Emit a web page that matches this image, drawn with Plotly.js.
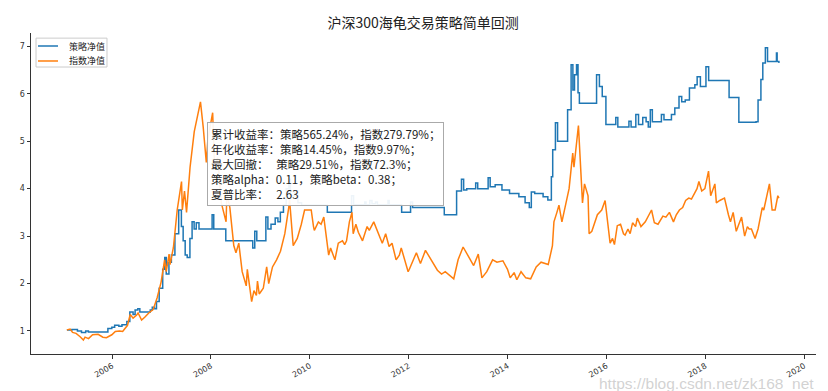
<!DOCTYPE html>
<html>
<head>
<meta charset="utf-8">
<script src="https://cdn.plot.ly/plotly-3.0.1.min.js"></script>
<style>html,body{margin:0;padding:0;background:#fff;}#chart{width:828px;height:391px;}</style>
</head>
<body>
<div id="chart"></div>
<script>
const chartTitle = '沪深300海龟交易策略简单回测';
const seriesNames = ['策略净值', '指数净值'];
const seriesColors = ['#1f77b4', '#ff7f0e'];
const statsLines = [
  '累计收益率：策略565.24%，指数279.79%；',
  '年化收益率：策略14.45%，指数9.97%；',
  '最大回撤：   策略29.51%，指数72.3%；',
  '策略alpha：0.11，策略beta：0.38；',
  '夏普比率：   2.63'
];
const watermark = 'https://blog.csdn.net/zk168_net';

const stratDates = ['2005-02-01','2005-03-10','2005-04-20','2005-05-20','2005-06-20','2005-07-10','2005-10-20','2005-12-01','2005-12-30','2006-01-20','2006-02-20','2006-03-15','2006-04-20','2006-05-12','2006-06-05','2006-06-20','2006-07-10','2006-07-25','2006-09-10','2006-10-10','2006-10-25','2006-11-10','2006-11-25','2006-12-15','2007-01-10','2007-01-25','2007-02-05','2007-02-25','2007-03-15','2007-04-10','2007-05-08','2007-05-28','2007-06-10','2007-06-25','2007-07-10','2007-07-30','2007-08-15','2007-08-30','2007-09-15','2007-10-05','2008-01-10','2008-01-22','2008-04-20','2008-10-20','2008-11-05','2008-11-20','2008-12-05','2009-02-10','2009-02-25','2009-03-20','2009-04-20','2009-05-10','2009-05-28','2009-06-20','2009-07-10','2009-07-30','2009-08-10','2009-09-10','2009-10-05','2009-11-01','2010-05-10','2010-10-25','2010-11-05','2010-11-20','2011-02-10','2011-02-20','2011-03-20','2011-04-05','2011-05-01','2011-05-15','2011-08-01','2011-08-10','2011-11-10','2012-01-15','2012-01-30','2012-09-20','2012-12-20','2013-01-25','2013-02-10','2013-03-05','2013-05-10','2013-05-25','2013-08-10','2013-08-25','2013-10-01','2013-11-20','2014-01-15','2014-03-25','2014-05-10','2014-06-10','2014-06-25','2014-07-20','2014-09-20','2014-10-25','2014-11-20','2014-11-30','2014-12-20','2015-01-05','2015-03-20','2015-04-15','2015-04-28','2015-05-10','2015-05-25','2015-06-05','2015-06-15','2015-10-20','2015-11-10','2015-12-01','2015-12-28','2016-03-10','2016-03-25','2016-06-15','2016-07-01','2016-08-05','2016-08-25','2016-09-25','2016-10-20','2016-11-05','2016-11-20','2016-12-05','2017-02-10','2017-03-01','2017-04-25','2017-05-20','2017-06-20','2017-07-10','2017-08-05','2017-09-05','2017-10-15','2017-11-01','2017-11-25','2018-01-05','2018-01-25','2018-06-25','2018-09-05','2019-01-10','2019-01-25','2019-02-15','2019-03-01','2019-03-20','2019-04-05','2019-06-10','2019-06-15','2019-06-28'];
const stratValues = [1.02,1.03,1.00,0.97,1.00,0.98,0.98,1.05,1.08,1.12,1.10,1.13,1.20,1.40,1.35,1.44,1.47,1.40,1.40,1.44,1.50,1.47,1.62,1.90,2.30,2.55,2.20,2.45,2.60,3.05,3.55,3.20,2.90,2.60,2.55,2.95,3.30,3.15,3.28,3.15,3.45,3.15,2.90,2.90,2.75,3.10,2.90,3.40,3.15,3.25,3.38,3.30,3.50,3.65,4.00,4.20,3.85,3.95,3.70,3.65,3.50,3.50,3.85,3.66,3.72,3.66,3.75,3.68,3.72,3.66,3.75,3.66,3.50,3.72,3.60,3.45,3.95,4.20,3.97,4.00,4.12,4.00,4.23,4.04,4.08,3.97,3.90,3.83,3.70,3.60,3.93,3.90,3.83,3.76,4.25,4.82,5.39,5.00,5.66,6.61,6.08,6.40,6.61,6.02,5.80,6.40,6.15,5.94,5.35,5.50,5.30,5.42,5.30,5.56,5.35,5.50,5.41,5.30,5.66,5.41,5.56,5.45,5.56,5.70,5.94,5.83,5.87,6.12,6.19,6.36,6.15,6.57,6.28,5.92,5.40,5.41,5.87,6.30,6.65,6.97,6.68,6.86,6.68,6.65];

const indexDates = ['2005-02-01','2005-02-25','2005-03-15','2005-04-10','2005-05-10','2005-06-03','2005-06-15','2005-07-11','2005-08-10','2005-09-20','2005-10-25','2005-11-20','2005-12-30','2006-01-25','2006-02-25','2006-03-20','2006-04-25','2006-05-15','2006-06-05','2006-06-30','2006-07-12','2006-08-07','2006-08-30','2006-09-29','2006-10-31','2006-11-30','2006-12-29','2007-01-24','2007-02-05','2007-02-26','2007-03-05','2007-03-30','2007-04-27','2007-05-29','2007-06-04','2007-06-20','2007-07-05','2007-07-31','2007-08-31','2007-09-28','2007-10-16','2007-11-05','2007-11-28','2007-12-10','2007-12-28','2008-01-14','2008-01-28','2008-02-20','2008-03-18','2008-04-22','2008-04-28','2008-05-20','2008-06-18','2008-07-04','2008-07-25','2008-08-19','2008-09-18','2008-09-26','2008-10-28','2008-11-14','2008-12-02','2008-12-10','2008-12-23','2009-01-22','2009-02-16','2009-03-03','2009-03-31','2009-04-30','2009-05-29','2009-06-30','2009-07-29','2009-08-04','2009-08-31','2009-09-30','2009-10-30','2009-11-23','2009-12-31','2010-01-11','2010-01-28','2010-02-03','2010-03-05','2010-03-25','2010-04-14','2010-04-30','2010-05-20','2010-06-03','2010-07-05','2010-07-30','2010-08-30','2010-09-15','2010-09-29','2010-10-20','2010-11-08','2010-11-17','2010-12-07','2010-12-25','2011-01-25','2011-02-28','2011-03-16','2011-04-18','2011-05-30','2011-06-20','2011-07-15','2011-08-09','2011-08-31','2011-09-30','2011-10-24','2011-11-07','2011-12-28','2012-01-06','2012-02-27','2012-03-28','2012-05-04','2012-06-29','2012-07-31','2012-08-31','2012-09-27','2012-11-29','2012-12-31','2013-02-06','2013-03-28','2013-04-25','2013-05-29','2013-06-25','2013-07-31','2013-09-12','2013-10-14','2013-11-27','2013-12-31','2014-01-20','2014-02-18','2014-03-10','2014-04-10','2014-05-15','2014-06-20','2014-07-31','2014-09-05','2014-10-28','2014-11-28','2014-12-09','2014-12-31','2015-01-15','2015-02-06','2015-03-31','2015-04-27','2015-05-06','2015-06-08','2015-06-19','2015-06-26','2015-07-08','2015-07-23','2015-08-18','2015-08-26','2015-09-15','2015-10-26','2015-11-27','2015-12-22','2016-01-28','2016-02-15','2016-02-29','2016-03-21','2016-04-14','2016-05-06','2016-05-18','2016-06-08','2016-06-24','2016-07-12','2016-08-03','2016-08-16','2016-09-12','2016-10-14','2016-11-29','2016-12-20','2017-01-16','2017-02-21','2017-03-15','2017-04-10','2017-05-10','2017-05-31','2017-06-23','2017-07-17','2017-08-08','2017-08-31','2017-09-20','2017-10-31','2017-11-14','2017-12-05','2017-12-28','2018-01-24','2018-02-09','2018-03-12','2018-03-23','2018-04-17','2018-05-22','2018-06-20','2018-07-05','2018-07-25','2018-08-17','2018-09-05','2018-09-25','2018-10-18','2018-11-07','2018-11-20','2018-12-07','2019-01-03','2019-01-25','2019-02-25','2019-03-08','2019-04-19','2019-05-09','2019-05-31','2019-06-20','2019-06-28'];
const indexValues = [1.02,1.04,0.97,0.95,0.88,0.81,0.87,0.84,0.92,0.93,0.87,0.86,0.92,0.99,1.00,0.99,1.12,1.35,1.27,1.33,1.38,1.23,1.29,1.38,1.45,1.70,2.03,2.50,2.25,2.62,2.40,2.76,3.55,4.15,3.55,3.95,3.50,4.45,5.20,5.55,5.83,5.30,4.55,5.05,5.30,5.60,4.45,4.65,3.70,3.30,3.90,3.60,2.80,2.65,2.85,2.25,1.95,2.30,1.62,1.85,1.75,2.05,1.78,1.90,2.35,2.00,2.35,2.50,2.68,3.05,3.60,3.77,2.80,2.95,3.25,3.55,3.55,3.55,3.20,3.12,3.30,3.25,3.40,3.05,2.60,2.75,2.50,2.85,2.90,2.82,2.90,3.30,3.50,3.05,3.25,3.08,2.90,3.20,3.12,3.30,3.00,2.85,3.05,2.78,2.85,2.50,2.60,2.75,2.25,2.30,2.65,2.42,2.70,2.42,2.28,2.20,2.25,2.10,2.50,2.77,2.50,2.38,2.62,2.12,2.25,2.50,2.45,2.48,2.30,2.12,2.23,2.08,2.25,2.12,2.10,2.35,2.45,2.40,2.80,3.30,3.50,3.65,3.30,4.00,4.75,4.45,5.33,4.70,4.25,3.70,4.10,3.85,3.05,3.10,3.45,3.55,3.75,2.85,2.95,2.82,3.22,3.25,3.05,3.02,3.15,3.05,3.28,3.20,3.38,3.20,3.30,3.55,3.28,3.25,3.42,3.40,3.50,3.30,3.45,3.55,3.60,3.75,3.80,3.78,4.00,4.15,3.95,4.00,4.37,3.85,4.10,3.70,3.75,3.80,3.45,3.30,3.50,3.10,3.25,3.40,3.00,3.20,3.15,3.15,2.95,3.15,3.60,3.55,4.10,3.55,3.55,3.85,3.80];

const cjk = '"Noto Sans CJK SC", "Noto Sans", sans-serif';
const tickFont = {family: '"DejaVu Sans", sans-serif', size: 8, color: '#333'};

const traces = [
  {x: stratDates, y: stratValues, name: seriesNames[0], type: 'scatter', mode: 'lines',
   line: {color: seriesColors[0], width: 1.5, shape: 'hv'}},
  {x: indexDates, y: indexValues, name: seriesNames[1], type: 'scatter', mode: 'lines',
   line: {color: seriesColors[1], width: 1.5}}
];

const legendRowsY = [0.9595, 0.9128];
const legendShapes = [
  {type: 'rect', xref: 'paper', yref: 'paper', x0: 0.0064, x1: 0.0968, y0: 0.894, y1: 0.984,
   line: {color: '#cccccc', width: 1}, fillcolor: 'rgba(255,255,255,0.8)', layer: 'above'}
].concat(seriesNames.map((n, i) => ({type: 'line', xref: 'paper', yref: 'paper', x0: 0.0089, x1: 0.0344,
   y0: legendRowsY[i], y1: legendRowsY[i], line: {color: seriesColors[i], width: 1.5}, layer: 'above'})));
const legendTexts = seriesNames.map((n, i) => ({xref: 'paper', yref: 'paper', x: 0.0459, y: legendRowsY[i],
   xanchor: 'left', yanchor: 'middle', showarrow: false, text: n, font: {family: cjk, size: 9, color: '#222'}}));

const layout = {
  width: 828, height: 391,
  margin: {l: 31, r: 12, t: 33, b: 37},
  paper_bgcolor: '#fff', plot_bgcolor: '#fff',
  title: {text: chartTitle, font: {family: cjk, size: 14, color: '#222'}, x: 0.511, xanchor: 'center', y: 0.94, yanchor: 'middle'},
  showlegend: false,
  xaxis: {type: 'date', range: ['2004-05-12', '2020-03-28'], tick0: '2006-01-01', dtick: 'M24', tickformat: '%Y',
    tickangle: -30, ticks: 'outside', ticklen: 3.5, tickcolor: '#333', showgrid: false, zeroline: false,
    showline: true, linecolor: '#333', linewidth: 1, tickfont: tickFont},
  yaxis: {range: [0.515, 7.28], dtick: 1, tick0: 0, ticks: 'outside', ticklen: 3.5, tickcolor: '#333',
    showgrid: false, zeroline: false, showline: true, linecolor: '#333', linewidth: 1, tickfont: tickFont},
  shapes: legendShapes,
  annotations: [
    {xref: 'paper', yref: 'paper', x: 0.224, y: 0.723, xanchor: 'left', yanchor: 'top', align: 'left',
     text: statsLines.join('<br>'), showarrow: false, bgcolor: 'rgba(255,255,255,0.92)', bordercolor: '#aaa',
     borderwidth: 1, borderpad: 3, font: {family: cjk, size: 11.5, color: '#222'}},
    {xref: 'paper', yref: 'paper', x: 1.0, y: -0.06, xanchor: 'right', yanchor: 'top', showarrow: false,
     text: watermark, font: {family: 'Arial, "Liberation Sans", sans-serif', size: 15.5, color: 'rgba(190,190,190,0.7)'}}
  ].concat(legendTexts)
};

Plotly.newPlot('chart', traces, layout, {displayModeBar: false, staticPlot: true});
</script>
</body>
</html>
